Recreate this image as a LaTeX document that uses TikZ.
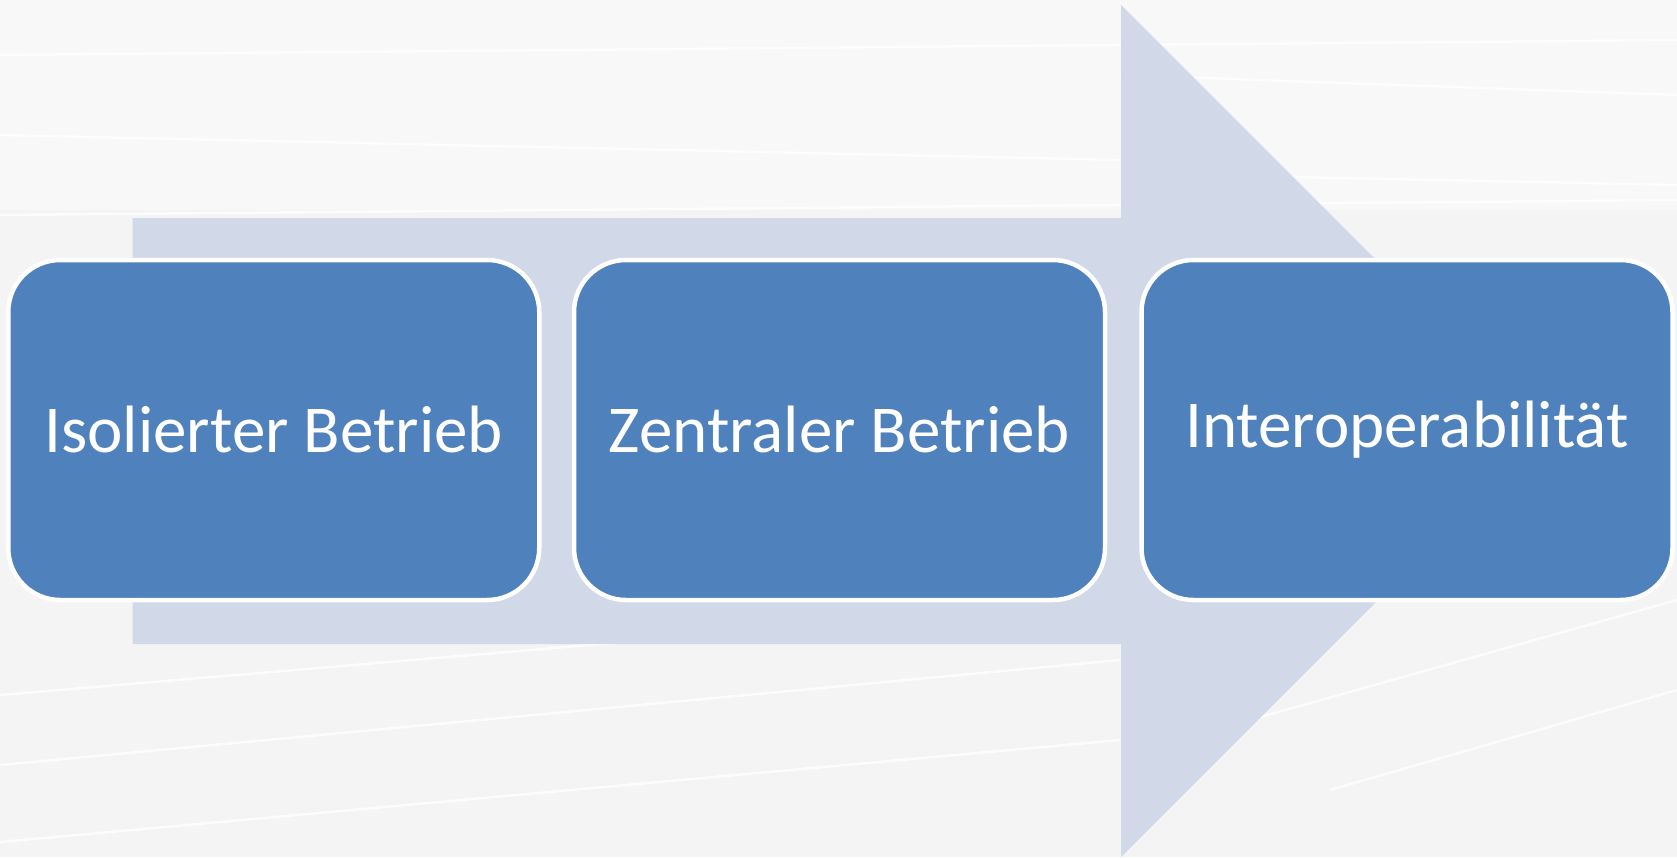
\documentclass[tikz,border=0pt]{standalone}
\usepackage{fontspec}
\setmainfont{Carlito}
\definecolor{bgcol}{HTML}{F4F4F4}
\definecolor{arrowcol}{HTML}{D1D8E7}
\definecolor{boxcol}{HTML}{4F81BD}
\begin{document}
\begin{tikzpicture}[x=1pt,y=-1pt,
  stage/.style={draw=white, line width=4.5pt, fill=boxcol, rounded corners=52pt,
    minimum width=531pt, minimum height=340pt, inner sep=0pt,
    text=white, font=\fontsize{67}{80}\selectfont},
  streak/.style={white, line width=2.5pt, opacity=0.75}]
% page and background texture
\fill[bgcol] (0,0) rectangle (1677,857);
\useasboundingbox (0,0) rectangle (1677,857);
\fill[white, opacity=0.4] (0,0) rectangle (1677,210);
\draw[streak] (0,55) -- (1677,40);
\draw[streak] (0,135) -- (1120,160);
\draw[streak] (0,215) -- (1677,200);
\draw[streak] (1120,75) -- (1677,95);
\draw[streak] (1200,175) -- (1677,185);
\draw[streak] (0,695) -- (1120,600);
\draw[streak] (0,765) -- (1120,660);
\draw[streak] (0,842) -- (1120,740);
\draw[streak] (1250,720) -- (1677,600);
\draw[streak] (1330,790) -- (1677,690);
% process arrow behind the stages
\fill[arrowcol] (132.7,218) -- (1121,218) -- (1121,5) -- (1547,431)
  -- (1121,857) -- (1121,644) -- (132.7,644) -- cycle;
% stages
\node[stage] (iso) at (273.75,430) {\raisebox{2pt}{Isolierter Betrieb}};
\node[stage] (zen) at (839.5,430) {\raisebox{2pt}{Zentraler Betrieb}};
\node[stage] (int) at (1407,430) {\raisebox{2pt}{Interoperabilität}};
\end{tikzpicture}
\end{document}
